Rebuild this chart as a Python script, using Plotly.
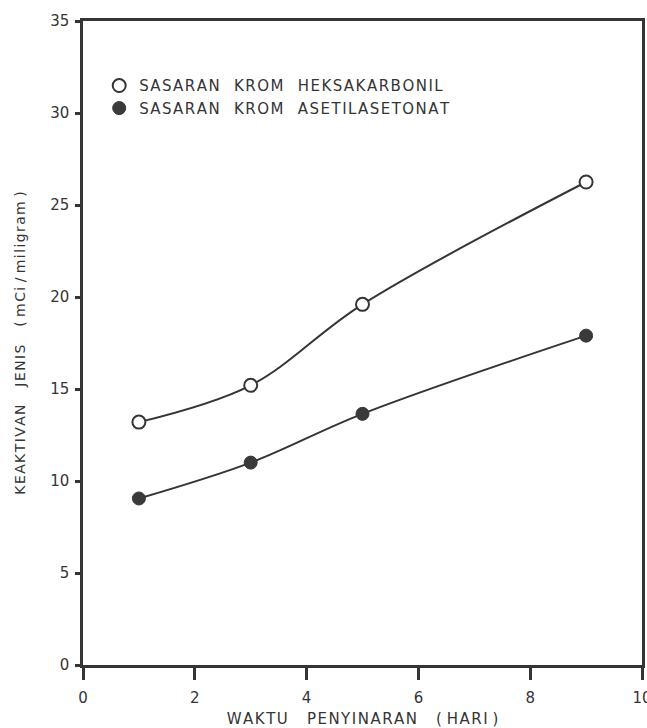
import plotly.graph_objects as go

# Irradiation time (days) and specific activity (mCi/mg) for the two chromium targets
waktu_hari = [1, 3, 5, 9]
heksakarbonil = [13.2, 15.2, 19.6, 26.25]
asetilasetonat = [9.05, 11.0, 13.65, 17.9]

x_ticks = [0, 2, 4, 6, 8, 10]
y_ticks = [0, 5, 10, 15, 20, 25, 30, 35]

INK = "#353535"
FONT = "DejaVu Sans"
NB = "\u00a0"
HAIR = "\u200a"


def spaced(text, word_gap=3):
    """Open, stencil-style lettering: hair gaps between letters, wide gaps
    between words, single gaps next to brackets and slashes."""
    words = text.split(" ")
    out = HAIR.join(words[0])
    for prev, w in zip(words, words[1:]):
        tight = prev in ("(", "/") or w in (")", "/")
        out += (NB if tight else NB * word_gap) + HAIR.join(w)
    return out


nama_heksa = spaced("SASARAN KROM HEKSAKARBONIL")
nama_asetil = spaced("SASARAN KROM ASETILASETONAT")

fig = go.Figure()

# smooth connecting curves (no legend entries)
for ys in (heksakarbonil, asetilasetonat):
    fig.add_trace(go.Scatter(
        x=waktu_hari, y=ys, mode="lines",
        line=dict(color=INK, width=2, shape="spline", smoothing=1.0),
        showlegend=False, hoverinfo="skip",
    ))

# data markers
fig.add_trace(go.Scatter(
    x=waktu_hari, y=heksakarbonil, mode="markers", name=nama_heksa,
    marker=dict(symbol="circle", size=13, color="white",
                line=dict(color=INK, width=2)),
))
fig.add_trace(go.Scatter(
    x=waktu_hari, y=asetilasetonat, mode="markers", name=nama_asetil,
    marker=dict(symbol="circle", size=13, color="#3a3a3a",
                line=dict(color=INK, width=1)),
))

axis_common = dict(
    showline=True, mirror=True, linecolor=INK, linewidth=2.5,
    ticks="outside", tickcolor=INK, tickwidth=2.5,
    showgrid=False, zeroline=False, ticklabeloverflow="allow",
    automargin=False,
    tickfont=dict(family=FONT, size=15, color=INK),
)

fig.update_layout(
    width=647, height=728,
    margin=dict(l=83, r=5, t=21, b=63),
    paper_bgcolor="white", plot_bgcolor="white",
    font=dict(family=FONT, color=INK),
    xaxis=dict(
        range=[0, 10], tickvals=x_ticks, ticklen=12, ticklabelstandoff=5,
        title=dict(text=spaced("WAKTU PENYINARAN ( HARI )", 4),
                   font=dict(family=FONT, size=15, color=INK), standoff=9),
        **axis_common,
    ),
    yaxis=dict(
        range=[0, 35], tickvals=y_ticks, ticklen=5, ticklabelstandoff=3,
        title=dict(text=spaced("KEAKTIVAN JENIS ( mCi / miligram )", 4),
                   font=dict(family=FONT, size=14, color=INK), standoff=22),
        **axis_common,
    ),
    legend=dict(
        x=0.029, y=0.925, xanchor="left", yanchor="top",
        bgcolor="rgba(0,0,0,0)", borderwidth=0, itemwidth=30,
        font=dict(family=FONT, size=15, color=INK),
        tracegroupgap=0,
    ),
)

fig.write_html("out.html")
